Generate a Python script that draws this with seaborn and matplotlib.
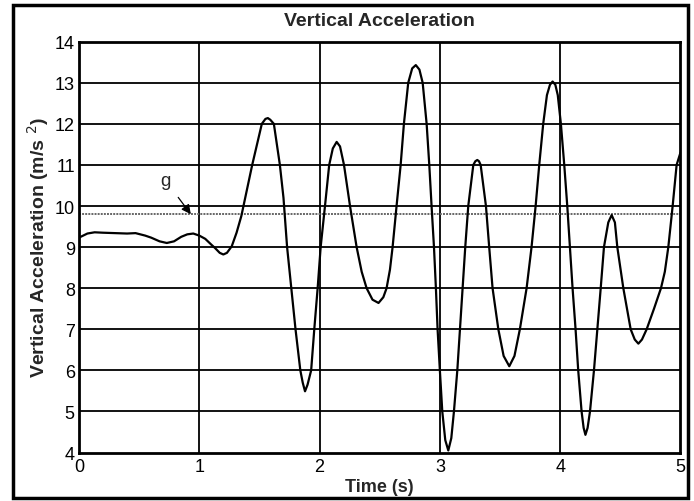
import matplotlib
matplotlib.use("Agg")
import matplotlib.pyplot as plt
import matplotlib.patches as mpatches
import seaborn as sns
import pandas as pd

# Data
time_s = [0.00, 0.07, 0.13, 0.20, 0.30, 0.40, 0.47, 0.55, 0.60, 0.67, 0.73, 0.79,
          0.85, 0.90, 0.95, 1.00, 1.05, 1.10, 1.13, 1.17, 1.20, 1.23, 1.27, 1.31,
          1.35, 1.40, 1.44, 1.48, 1.52, 1.55, 1.57, 1.59, 1.62, 1.645, 1.67, 1.70,
          1.73, 1.765, 1.80, 1.84, 1.86, 1.879, 1.90, 1.93, 1.956, 1.984, 2.009,
          2.045, 2.08, 2.11, 2.142, 2.17, 2.203, 2.253, 2.308, 2.35, 2.391, 2.44,
          2.49, 2.53, 2.557, 2.585, 2.607, 2.640, 2.674, 2.701, 2.737, 2.77, 2.80,
          2.83, 2.857, 2.89, 2.912, 2.931, 2.951, 2.967, 2.981, 3.00, 3.02, 3.045,
          3.07, 3.095, 3.117, 3.145, 3.167, 3.189, 3.211, 3.236, 3.278, 3.295,
          3.311, 3.325, 3.339, 3.383, 3.41, 3.438, 3.486, 3.53, 3.577, 3.62,
          3.665, 3.721, 3.762, 3.796, 3.826, 3.859, 3.89, 3.915, 3.937, 3.96,
          3.98, 4.006, 4.034, 4.059, 4.081, 4.103, 4.128, 4.150, 4.178, 4.195,
          4.21, 4.228, 4.248, 4.281, 4.309, 4.337, 4.364, 4.40, 4.428, 4.455,
          4.475, 4.525, 4.586, 4.62, 4.65, 4.68, 4.719, 4.78, 4.838, 4.87, 4.899,
          4.935, 4.968, 5.00]
accel = [9.23, 9.33, 9.36, 9.35, 9.34, 9.33, 9.34, 9.28, 9.23, 9.14, 9.10, 9.14,
         9.25, 9.31, 9.33, 9.28, 9.20, 9.06, 8.98, 8.86, 8.82, 8.86, 9.02, 9.35,
         9.76, 10.45, 11.0, 11.5, 12.0, 12.12, 12.14, 12.10, 12.0, 11.5, 11.0, 10.2,
         9.0, 8.0, 7.0, 6.0, 5.7, 5.49, 5.65, 6.0, 7.0, 8.0, 9.0,
         10.0, 11.0, 11.4, 11.56, 11.45, 11.0, 10.0, 9.0, 8.4, 8.0, 7.72,
         7.64, 7.78, 8.0, 8.45, 9.0, 10.0, 11.0, 12.0, 13.0, 13.35, 13.43,
         13.32, 13.0, 12.0, 11.0, 10.0, 9.0, 8.0, 7.0, 6.0, 5.0, 4.3,
         4.05, 4.35, 5.0, 6.0, 7.0, 8.0, 9.0, 10.0, 11.0, 11.09,
         11.12, 11.09, 11.0, 10.0, 9.0, 8.0, 7.0, 6.35, 6.10, 6.35,
         7.0, 8.0, 9.0, 10.0, 11.0, 12.0, 12.7, 12.95, 13.03, 12.95,
         12.7, 12.0, 11.0, 10.0, 9.0, 8.0, 7.0, 6.0, 5.0, 4.6,
         4.43, 4.6, 5.0, 6.0, 7.0, 8.0, 9.0, 9.6, 9.78, 9.6,
         9.0, 8.0, 7.0, 6.75, 6.65, 6.75, 7.0, 7.5, 8.0, 8.4, 9.0,
         10.0, 11.0, 11.3]
g_value = 9.8
x_ticks = [0, 1, 2, 3, 4, 5]
y_ticks = [4, 5, 6, 7, 8, 9, 10, 11, 12, 13, 14]

df = pd.DataFrame({"Time (s)": time_s, "Accel": accel})

sns.set_theme(style="white")
plt.rcParams['font.family'] = ['Liberation Sans', 'DejaVu Sans']

fig = plt.figure(figsize=(6.94, 5.02), dpi=100)
ax = fig.add_axes([0.1138, 0.0966, 0.9805 - 0.1138, 0.915 - 0.0966])

# figure border
fig.patches.append(mpatches.Rectangle((0.019, 0.006), 0.972, 0.982, transform=fig.transFigure,
                                      fill=False, edgecolor='black', linewidth=2.5, zorder=0))

for yv in y_ticks[1:-1]:
    ax.axhline(yv, color='black', linewidth=1.3, zorder=1)
for xv in x_ticks[1:-1]:
    ax.axvline(xv, color='black', linewidth=1.3, zorder=1)

ax.axhline(g_value, color='#666666', linestyle=(0, (1, 0.6)), linewidth=1.4, zorder=2)

sns.lineplot(data=df, x="Time (s)", y="Accel", ax=ax, color='black', linewidth=1.6,
             sort=False, zorder=3)

ax.annotate("g", xy=(0.93, g_value), xytext=(0.72, 10.62), fontsize=13.5,
            ha='center', va='center',
            arrowprops=dict(arrowstyle='-|>', color='black', lw=0.9,
                            shrinkA=5, shrinkB=0, mutation_scale=14))

ax.set_xlim(0, 5)
ax.set_ylim(4, 14)
ax.set_xticks(x_ticks)
ax.set_yticks(y_ticks)
ax.tick_params(axis='y', length=0, labelsize=13, colors='black', pad=3)
ax.tick_params(axis='x', length=0, labelsize=13, colors='black', pad=4)
ax.set_xlabel("Time (s)", fontsize=13, fontweight='bold', labelpad=2)
ax.set_ylabel("Vertical Acceleration (m/s $^{2}$)", fontsize=14, fontweight='bold', labelpad=3)
ax.set_title("Vertical Acceleration", fontsize=14, fontweight='bold', pad=12)
for s in ax.spines.values():
    s.set_visible(True)
    s.set_color('black')
    s.set_linewidth(2)

fig.savefig("out.png", dpi=100)
